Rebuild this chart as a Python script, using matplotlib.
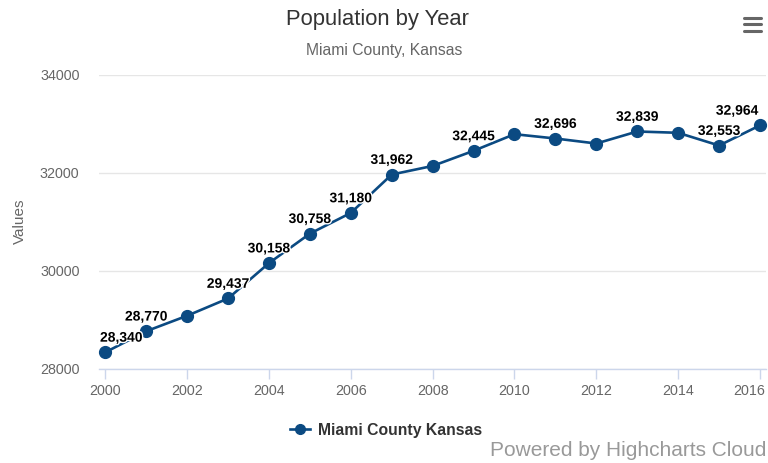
import matplotlib
matplotlib.use("Agg")
import matplotlib.pyplot as plt
import matplotlib.patheffects as pe
import matplotlib.transforms as mtrans
from matplotlib.lines import Line2D

plt.rcParams['font.family'] = ['Liberation Sans', 'DejaVu Sans']

anios = [2000, 2001, 2002, 2003, 2004, 2005, 2006, 2007, 2008,
         2009, 2010, 2011, 2012, 2013, 2014, 2015, 2016]
poblacion = [28340, 28770, 29085, 29437, 30158, 30758, 31180, 31962, 32137,
             32445, 32784, 32696, 32594, 32839, 32812, 32553, 32964]
# anios con etiqueta visible (el resto los oculta highcharts por solaparse)
con_etiqueta = [2000, 2001, 2003, 2004, 2005, 2006, 2007, 2009, 2011, 2013, 2015, 2016]
ticks_x = [2000, 2002, 2004, 2006, 2008, 2010, 2012, 2014, 2016]
ticks_y = [28000, 30000, 32000, 34000]

azul = '#0b4a82'
W, H = 768, 463

fig = plt.figure(figsize=(W / 100, H / 100), dpi=100)
ax = fig.add_axes([99 / W, (H - 369) / H, (766 - 99) / W, (369 - 74.5) / H])

ax.plot(anios, poblacion, color=azul, lw=1.9, marker='o', ms=8.5,
        markeredgecolor=azul, zorder=3, clip_on=False)

for x, y in zip(anios, poblacion):
    if x not in con_etiqueta:
        continue
    dx = 0
    if x == 2000:
        dx = 11.5
    if x == 2016:
        dx = -16.5
    t = ax.annotate(f"{y:,}", (x, y), xytext=(dx, 5.5), textcoords='offset points',
                    ha='center', va='bottom', fontsize=10, fontweight='bold',
                    color='black', zorder=4)
    t.set_path_effects([pe.withStroke(linewidth=2, foreground='white')])

ax.set_xlim(2000 - 6.3 / 40.92, 2016 + 6 / 40.92)
ax.set_ylim(28000, 34000)
ax.set_xticks(ticks_x)
ax.set_yticks(ticks_y)
ax.set_yticklabels([str(v) for v in ticks_y])

ax.grid(axis='y', color='#e6e6e6', lw=1)
ax.set_axisbelow(True)
for s in ['top', 'right', 'left']:
    ax.spines[s].set_visible(False)
ax.spines['bottom'].set_color('#ccd6eb')
ax.spines['bottom'].set_linewidth(1)
ax.tick_params(axis='x', colors='#ccd6eb', length=7.5, width=1, labelcolor='#666666',
               labelsize=10.3, pad=3)
ax.tick_params(axis='y', length=0, labelcolor='#666666', labelsize=10.3, pad=14)
ax.set_ylabel('Values', color='#666666', fontsize=11, labelpad=9)

# la ultima etiqueta del eje x se corre a la izquierda para que entre
ultima = ax.get_xticklabels()[-1]
ultima.set_horizontalalignment('right')
ultima.set_transform(ultima.get_transform() +
                     mtrans.ScaledTranslation(5 / 100, 0, fig.dpi_scale_trans))

fig.text(0.492, 1 - 20 / H, 'Population by Year', ha='center', va='center',
         fontsize=15.8, color='#333333')
fig.text(0.5, 1 - 50 / H, 'Miami County, Kansas', ha='center', va='center',
         fontsize=11.3, color='#666666')

# icono de menu
for yy in [17.7, 24.3, 31]:
    fig.add_artist(Line2D([744 / W, 761 / W], [1 - yy / H, 1 - yy / H], color='#666666',
                          lw=2.2, solid_capstyle='round'))

h = Line2D([], [], color=azul, lw=1.9, marker='o', ms=7, markeredgecolor=azul)
leg = fig.legend([h], ['Miami County Kansas'], loc='center', bbox_to_anchor=(386 / W, 1 - 430 / H),
                 frameon=False, handlelength=1.3, handletextpad=0.5,
                 prop={'size': 11.3, 'weight': 'bold'})
leg.get_texts()[0].set_color('#333333')

fig.text(766 / W, 1 - 450 / H, 'Powered by Highcharts Cloud', ha='right', va='center',
         fontsize=15, color='#999999')

fig.savefig('out.png', dpi=100)
